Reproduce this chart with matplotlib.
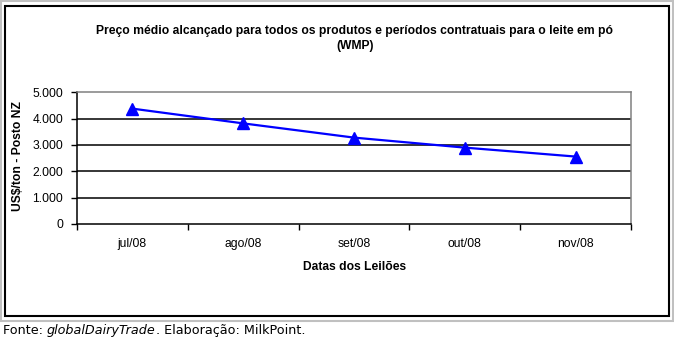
import matplotlib
matplotlib.use("Agg")
import matplotlib.pyplot as plt
from matplotlib.patches import Rectangle

categories = ["jul/08", "ago/08", "set/08", "out/08", "nov/08"]
prices = [4380, 3820, 3280, 2900, 2560]
yticks = [0, 1000, 2000, 3000, 4000, 5000]
ytick_labels = ["0", "1.000", "2.000", "3.000", "4.000", "5.000"]

W, H = 674, 339
fig = plt.figure(figsize=(W / 100, H / 100), dpi=100)
fig.patch.set_facecolor("white")

def fx(px):
    return px / W

def fy(py):
    return 1 - py / H

FS = 8.7
FAM = "Liberation Sans"

# outer frames
fig.add_artist(Rectangle((fx(1), fy(320.5)), fx(671.5), (319.5) / H,
                         transform=fig.transFigure, fill=False,
                         edgecolor="#c0c0c0", linewidth=1.5))
fig.add_artist(Rectangle((fx(5), fy(316)), fx(663.5), (310.5) / H,
                         transform=fig.transFigure, fill=False,
                         edgecolor="black", linewidth=1.5))

ax = fig.add_axes([fx(77), fy(224), fx(554), (224 - 92.3) / H])
x = list(range(len(categories)))
ax.plot(x, prices, color="#0000ff", linewidth=1.6, marker="^",
        markersize=8, markerfacecolor="#0000ff", markeredgecolor="#0000ff",
        clip_on=False, zorder=5)

ax.set_xlim(-0.5, len(categories) - 0.5)
ax.set_ylim(0, 5000)
ax.set_yticks(yticks)
ax.set_yticklabels(ytick_labels, fontfamily=FAM, fontsize=FS)
ax.set_xticks(x)
ax.set_xticklabels(categories, fontfamily=FAM, fontsize=FS)
ax.set_xticks([i - 0.5 for i in range(len(categories) + 1)], minor=True)
ax.tick_params(axis="x", which="major", length=0, pad=10)
ax.tick_params(axis="x", which="minor", length=4, width=1, direction="out", color="black")
ax.tick_params(axis="y", which="major", length=4, width=1, direction="out", pad=6)

for y in yticks[1:-1]:
    ax.axhline(y, color="black", linewidth=1.1, zorder=1)

ax.spines["top"].set_color("#808080")
ax.spines["right"].set_color("#808080")
ax.spines["left"].set_color("black")
ax.spines["bottom"].set_color("black")
for s in ax.spines.values():
    s.set_linewidth(1.1)

fig.text(fx(355), fy(31), "Preço médio alcançado para todos os produtos e períodos contratuais para o leite em pó",
         ha="center", va="center", fontsize=FS, fontweight="bold", fontfamily=FAM)
fig.text(fx(355), fy(46), "(WMP)",
         ha="center", va="center", fontsize=FS, fontweight="bold", fontfamily=FAM)
fig.text(fx(355), fy(267), "Datas dos Leilões",
         ha="center", va="center", fontsize=FS, fontweight="bold", fontfamily=FAM)
fig.text(fx(18), fy(156), "US$/ton - Posto NZ", rotation=90,
         ha="center", va="center", fontsize=FS, fontweight="bold", fontfamily=FAM)

t1 = fig.text(fx(3), fy(337), "Fonte: ", ha="left", va="bottom",
              fontsize=9.2, fontfamily="DejaVu Sans")
t2 = ax.annotate("globalDairyTrade", xy=(1, 0), xycoords=t1, ha="left", va="bottom",
                 fontsize=9.2, fontfamily="DejaVu Sans", style="italic", annotation_clip=False)
t3 = ax.annotate(". Elaboração: MilkPoint.", xy=(1, 0), xycoords=t2, ha="left", va="bottom",
                 fontsize=9.2, fontfamily="DejaVu Sans", annotation_clip=False)

fig.savefig("out.png", dpi=100)
